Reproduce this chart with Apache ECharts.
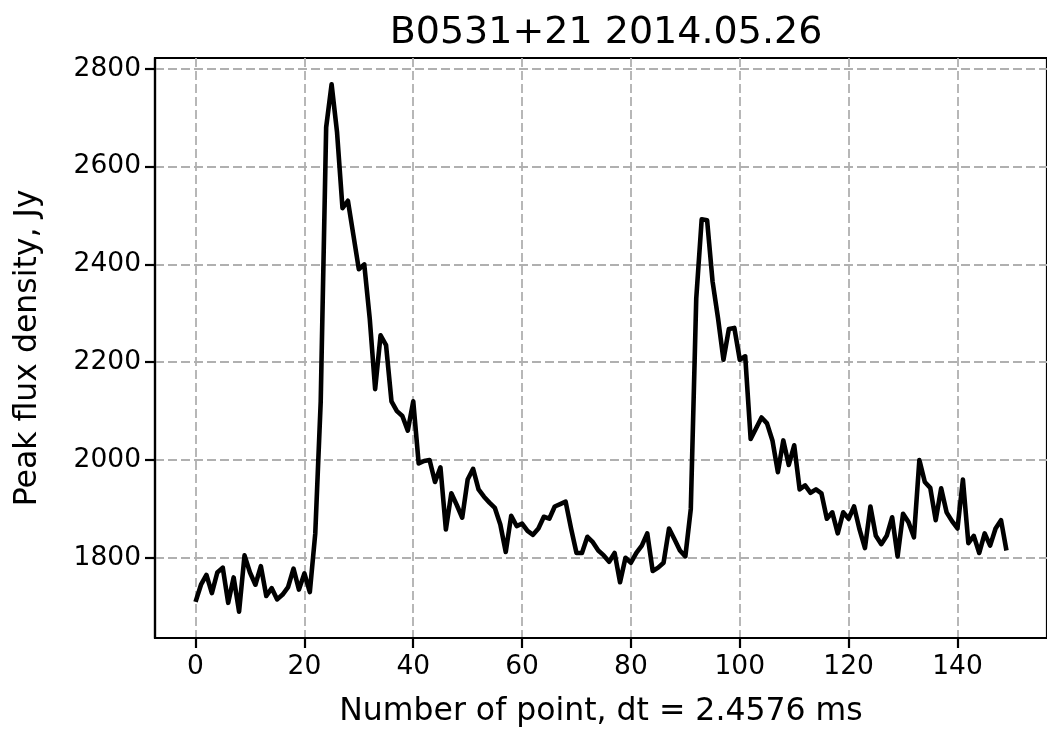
<!DOCTYPE html>
<html>
<head>
<meta charset="utf-8">
<script src="https://cdn.jsdelivr.net/npm/echarts@6/dist/echarts.min.js"></script>
<style>
  html, body { margin: 0; padding: 0; background: #ffffff; }
  #chart { width: 1047px; height: 733px; }
</style>
</head>
<body>
<div id="chart"></div>
<script>
// Peak flux density of B0531+21 per sample point (Jy)
const peakFlux = [
  1710, 1745, 1765, 1728, 1770, 1780, 1708, 1760, 1690, 1805,
  1770, 1745, 1783, 1722, 1738, 1715, 1725, 1740, 1778, 1735,
  1768, 1730, 1850, 2120, 2680, 2768, 2670, 2515, 2530, 2460,
  2390, 2400, 2290, 2145, 2255, 2235, 2120, 2100, 2090, 2060,
  2120, 1993, 1998, 2000, 1955, 1985, 1858, 1932, 1908, 1882,
  1960, 1982, 1940, 1925, 1913, 1902, 1868, 1812, 1886, 1865,
  1870, 1855, 1847, 1860, 1884, 1880, 1905, 1910, 1915, 1860,
  1810, 1810, 1843, 1832, 1815, 1805, 1792, 1810, 1750, 1800,
  1790, 1810, 1825, 1850, 1773, 1780, 1790, 1860, 1838, 1815,
  1803, 1900, 2330, 2492, 2490, 2365, 2290, 2205, 2268, 2270,
  2205, 2212, 2043, 2065, 2087, 2075, 2040, 1975, 2040, 1990,
  2030, 1940, 1948, 1933, 1940, 1932, 1880, 1893, 1850, 1893,
  1880, 1905, 1858, 1820, 1905, 1845, 1828, 1845, 1883, 1803,
  1890, 1873, 1842, 2000, 1955, 1943, 1877, 1942, 1893, 1875,
  1860, 1960, 1830, 1845, 1810, 1850, 1825, 1860, 1877, 1815
];
const xTicks = [0, 20, 40, 60, 80, 100, 120, 140];
const yTicks = [1800, 2000, 2200, 2400, 2600, 2800];

const titleText = 'B0531+21 2014.05.26';
const xLabel = 'Number of point, dt = 2.4576 ms';
const yLabel = 'Peak flux density, Jy';

// axis limits with 5% padding around the data
const n = peakFlux.length;
const xPad = (n - 1) * 0.05;
const yMinD = Math.min(...peakFlux), yMaxD = Math.max(...peakFlux);
const yPad = (yMaxD - yMinD) * 0.05;

const points = peakFlux.map((v, i) => [i, v]);
const FONT = 'DejaVu Sans';
const gridLine = { show: true, lineStyle: { color: '#b0b0b0', width: 1.8, type: [9, 4] } };

const chart = echarts.init(document.getElementById('chart'), null, { renderer: 'canvas' });
chart.setOption({
  animation: false,
  backgroundColor: '#ffffff',
  title: {
    text: titleText,
    left: 601, top: 9, textAlign: 'center',
    textStyle: { fontFamily: FONT, fontSize: 38, fontWeight: 'normal', color: '#000' }
  },
  grid: {
    left: 155, right: -2, top: 58, bottom: 95,
    show: true, borderColor: '#000', borderWidth: 2.2, backgroundColor: 'transparent'
  },
  xAxis: {
    type: 'value',
    min: -xPad, max: n - 1 + xPad,
    name: xLabel, nameLocation: 'middle', nameGap: 58,
    nameTextStyle: { fontFamily: FONT, fontSize: 31.5, color: '#000' },
    axisLine: { show: true, onZero: false, lineStyle: { color: '#000', width: 2.2 } },
    axisTick: { show: true, inside: false, length: 10, customValues: xTicks,
                lineStyle: { color: '#000', width: 2.2 } },
    axisLabel: { customValues: xTicks, margin: 16, fontFamily: FONT, fontSize: 26.5, color: '#000',
                 formatter: v => String(v) },
    splitLine: gridLine
  },
  yAxis: {
    type: 'value',
    min: yMinD - yPad, max: yMaxD + yPad,
    name: yLabel, nameLocation: 'middle', nameGap: 111, nameRotate: 90,
    nameTextStyle: { fontFamily: FONT, fontSize: 31.5, color: '#000' },
    axisLine: { show: true, onZero: false, lineStyle: { color: '#000', width: 2.2 } },
    axisTick: { show: true, inside: false, length: 10, customValues: yTicks,
                lineStyle: { color: '#000', width: 2.2 } },
    axisLabel: { customValues: yTicks, margin: 14, fontFamily: FONT, fontSize: 26.5, color: '#000',
                 formatter: v => String(v) },
    splitLine: gridLine
  },
  series: [{
    type: 'line',
    data: points,
    showSymbol: false,
    lineStyle: { color: '#000', width: 4.6, join: 'round' },
    z: 5
  }]
});
</script>
</body>
</html>
